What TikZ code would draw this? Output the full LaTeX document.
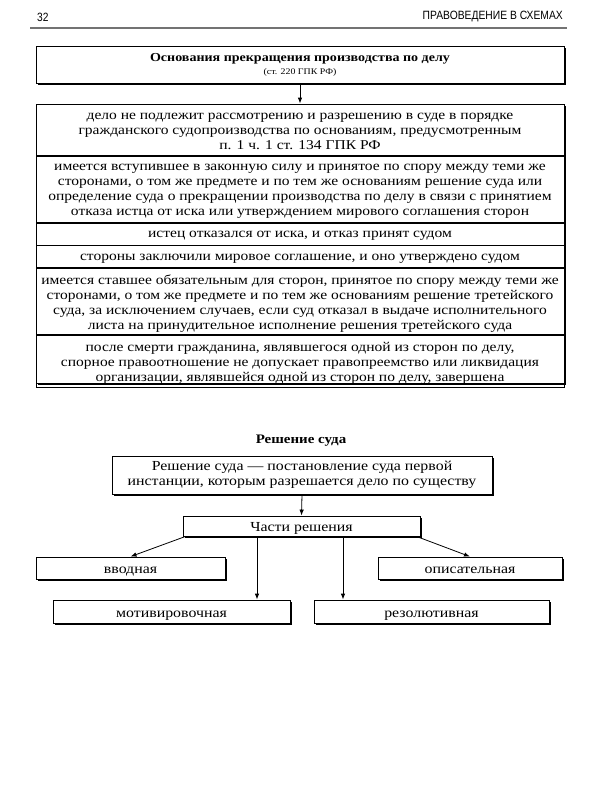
\documentclass[tikz,border=0pt]{standalone}
\usepackage{fontspec}
\setmainfont{Liberation Serif}[FakeStretch=1.15]
\setsansfont{Liberation Sans}
\usetikzlibrary{shadows,arrows.meta}

\begin{document}
\begin{tikzpicture}[x=1pt,y=-1pt,
  box/.style={draw=black, line width=0.8pt, fill=white, inner sep=0pt, align=center,
    general shadow={fill=black, shadow xshift=1.6pt, shadow yshift=-1.6pt}},
  onebox/.style={draw=black, line width=0.8pt, fill=white, inner sep=0pt,
    text height=11pt, text depth=0pt,
    general shadow={fill=black, shadow xshift=1.6pt, shadow yshift=-1.6pt}},
  row/.style={draw=black, line width=0.8pt, minimum width=528pt, inner sep=0pt, anchor=north},
  rowtext/.style={txt, align=center, inner sep=0pt, yshift=-2pt},
  arr/.style={-{Latex[length=6pt,width=4.5pt]}, line width=0.8pt},
  txt/.style={font=\fontsize{13.5}{15}\selectfont},
  txtb/.style={font=\fontsize{13.8}{15.5}\selectfont},
  ttl/.style={font=\fontsize{13}{15}\selectfont\bfseries}
]
\useasboundingbox (0,0) rectangle (600,800);

% header
\node[anchor=west, font=\sffamily\fontsize{12}{14}\selectfont, inner sep=0pt] (pnum) at (37,17) {\scalebox{0.85}[1]{32}};
\node[anchor=east, font=\sffamily\fontsize{12}{14}\selectfont, inner sep=0pt] (run) at (563,17) {\scalebox{0.86}[1]{ПРАВОВЕДЕНИЕ В СХЕМАХ}};
\draw[line width=1.6pt, black!55] (30,28) -- (567,28);

% top section
\node[box, minimum width=528pt, minimum height=37pt] (top) at (300,65)
  {{\fontsize{12.2}{14}\selectfont\bfseries Основания прекращения производства по делу}\\[1pt]
   {\fontsize{8.6}{10}\selectfont (ст. 220 ГПК РФ)}};

\node[box, minimum width=528pt, minimum height=279pt] (big) at (300,243.5) {};

\node[row, minimum height=51pt, label={[rowtext]center:дело не подлежит рассмотрению и разрешению в суде в порядке\\
   гражданского судопроизводства по основаниям, предусмотренным\\
   п. 1 ч. 1 ст. 134 ГПК РФ}] (r1) at (300,104) {};
\node[row, minimum height=66pt, label={[rowtext]center:имеется вступившее в законную силу и принятое по спору между теми же\\
   сторонами, о том же предмете и по тем же основаниям решение суда или\\
   определение суда о прекращении производства по делу в связи с принятием\\
   отказа истца от иска или утверждением мирового соглашения сторон}] (r2) at (r1.south) {};
\node[row, minimum height=22pt, label={[rowtext]center:истец отказался от иска, и отказ принят судом}] (r3) at (r2.south) {};
\node[row, minimum height=22pt, label={[rowtext]center:стороны заключили мировое соглашение, и оно утверждено судом}] (r4) at (r3.south) {};
\node[row, minimum height=66pt, label={[rowtext]center:имеется ставшее обязательным для сторон, принятое по спору между теми же\\
   сторонами, о том же предмете и по тем же основаниям решение третейского\\
   суда, за исключением случаев, если суд отказал в выдаче исполнительного\\
   листа на принудительное исполнение решения третейского суда}] (r5) at (r4.south) {};
\node[row, minimum height=52pt, label={[rowtext]center:после смерти гражданина, являвшегося одной из сторон по делу,\\
   спорное правоотношение не допускает правопреемство или ликвидация\\
   организации, являвшейся одной из сторон по делу, завершена}] (r6) at (r5.south) {};

\draw[arr] (top.south) -- (big.north);

% lower section
\node[ttl, inner sep=0pt] (title2) at (301,441) {Решение суда};
\node[box, txtb, minimum width=380pt, minimum height=38pt] (def) at (302,475)
  {Решение суда — постановление суда первой\\инстанции, которым разрешается дело по существу};
\node[onebox, txtb, minimum width=237pt, minimum height=20pt] (parts) at (301.5,526) {Части решения};
\node[onebox, txtb, minimum width=189pt, minimum height=22pt] (vvod) at (130.5,568) {вводная};
\node[onebox, txtb, minimum width=184pt, minimum height=22pt] (opis) at (470,568) {описательная};
\node[onebox, txtb, minimum width=237pt, minimum height=23pt] (motiv) at (171.5,611.5) {мотивировочная};
\node[onebox, txtb, minimum width=235pt, minimum height=23pt] (rezol) at (431.5,611.5) {резолютивная};

\draw[arr] (def.south) -- (parts.north);
\draw[arr] ([xshift=3pt]parts.south west) -- (vvod.north);
\draw[arr] ([xshift=-4pt]parts.south east) -- (opis.north);
\draw[arr] ([xshift=-44.5pt]parts.south) -- ([xshift=-44.5pt]parts.south |- motiv.north);
\draw[arr] ([xshift=41.5pt]parts.south) -- ([xshift=41.5pt]parts.south |- rezol.north);
\end{tikzpicture}
\end{document}
